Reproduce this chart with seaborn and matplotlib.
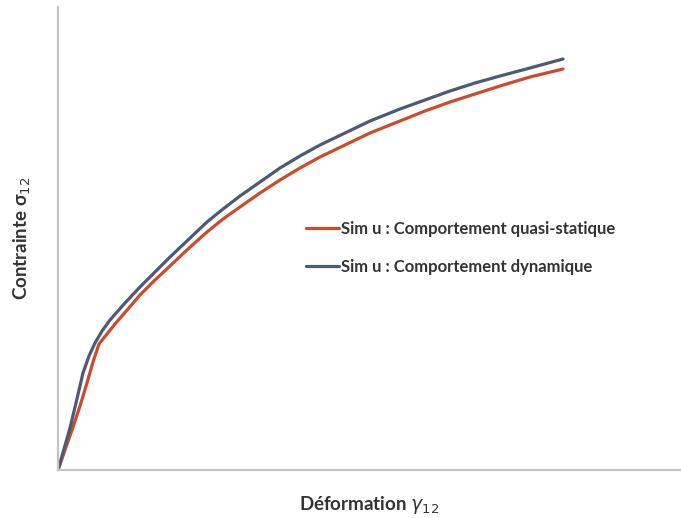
import matplotlib

matplotlib.use("Agg")
import matplotlib.pyplot as plt
import pandas as pd
import seaborn as sns

# values (arbitrary units, no ticks shown)
gamma_quasi = [0, 7, 14, 22, 29, 35, 41, 49, 57, 70, 82, 97, 112, 130, 149, 165, 182, 202,
               222, 242, 262, 287, 312, 327, 342, 367, 392, 417, 442, 472, 505]
sigma_quasi = [0, 20, 40, 64, 87, 108, 126, 136, 146, 161, 175, 190, 204, 221, 238, 251, 263,
               277, 290, 302, 313, 325, 337, 343, 349, 359, 368, 376, 384, 393, 401]

gamma_dyn = [0, 6, 12, 18, 25, 31, 37, 44, 52, 67, 82, 97, 112, 130, 149, 165, 182, 202,
             222, 242, 262, 287, 312, 327, 342, 367, 392, 417, 442, 472, 505]
sigma_dyn = [0, 21, 42, 67, 97, 114, 127, 139, 150, 167, 183, 198, 213, 230, 248, 261, 274,
             288, 302, 314, 325, 337, 349, 355, 361, 370, 379, 387, 394, 402, 411]

label_quasi = "Sim u : Comportement quasi-statique"
label_dyn = "Sim u : Comportement dynamique"

sns.set_theme(style="white")
plt.rcParams["font.family"] = ["Lato", "DejaVu Sans"]

df = pd.concat(
    [
        pd.DataFrame({"gamma": gamma_quasi, "sigma": sigma_quasi, "serie": label_quasi}),
        pd.DataFrame({"gamma": gamma_dyn, "sigma": sigma_dyn, "serie": label_dyn}),
    ],
    ignore_index=True,
)

fig = plt.figure(figsize=(6.81, 5.18), dpi=100)
ax = fig.add_axes([58 / 681, 48 / 518, 623 / 681, 463 / 518])

sns.lineplot(
    data=df,
    x="gamma",
    y="sigma",
    hue="serie",
    sort=False,
    palette={label_quasi: "#CC4B2B", label_dyn: "#4C5A76"},
    linewidth=2.3,
    ax=ax,
)
for line in ax.lines:
    line.set_solid_joinstyle("round")

ax.set_xlim(0, 623)
ax.set_ylim(0, 463)
ax.set_xticks([])
ax.set_yticks([])
for side in ["top", "right"]:
    ax.spines[side].set_visible(False)
for side in ["left", "bottom"]:
    ax.spines[side].set_color("#C4C4C4")
    ax.spines[side].set_linewidth(1.6)

ax.set_xlabel(r"Déformation $\gamma_{12}$", fontsize=13.5, fontweight="bold", color="#333333", labelpad=17)
ax.set_ylabel("Contrainte σ$_{12}$", fontsize=13.5, fontweight="bold", color="#333333", labelpad=18)

ax.legend(
    loc="center left",
    bbox_to_anchor=(0.374, 0.48),
    frameon=False,
    title=None,
    prop={"size": 12, "weight": "bold"},
    handlelength=2.0,
    handletextpad=0.1,
    labelspacing=1.3,
    labelcolor="#333333",
)

fig.savefig("out.png", dpi=100)
